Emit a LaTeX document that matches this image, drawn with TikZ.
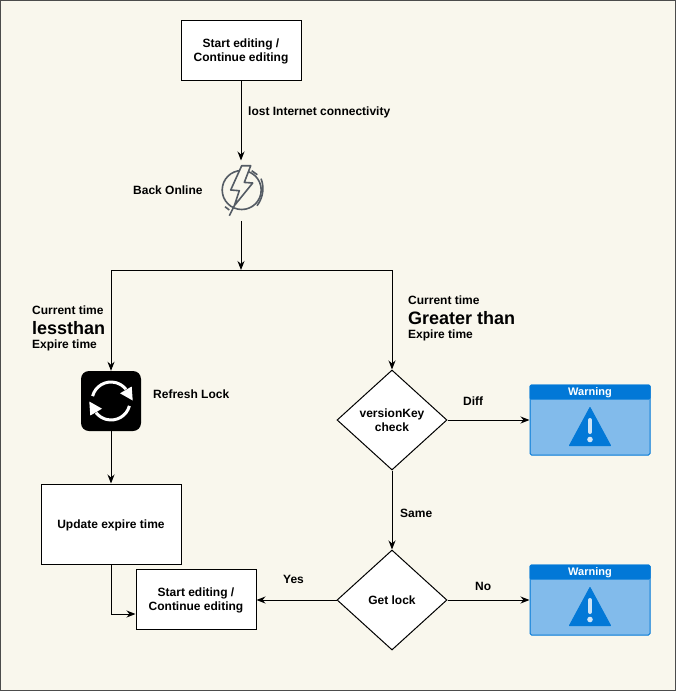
\documentclass[tikz,border=0pt]{standalone}
\usepackage{fontspec}
\setmainfont{Liberation Sans}
\usetikzlibrary{
    arrows.meta,
    positioning,
    calc,
    shapes.geometric
}
\definecolor{paper}{RGB}{249,247,237}
\definecolor{warnfill}{RGB}{130,187,235}
\definecolor{warnblue}{RGB}{2,120,215}
\definecolor{boltgray}{RGB}{84,91,100}
\tikzset{
  box/.style     = {draw, fill=white, line width=1pt, inner sep=0pt, align=center, text depth=0pt,
                    font=\bfseries\fontsize{12}{14}\selectfont},
  choice/.style  = {draw, fill=white, diamond, aspect=1.1, line width=1pt, inner sep=0pt,
                    minimum width=110pt, minimum height=100pt, align=center,
                    font=\bfseries\fontsize{12}{14}\selectfont},
  lbl/.style     = {inner sep=0pt, anchor=west, align=left,
                    font=\bfseries\fontsize{12}{14}\selectfont},
  biglbl/.style  = {inner sep=0pt, anchor=west, font=\bfseries\fontsize{18}{20}\selectfont},
  icon/.style    = {inner sep=0pt, minimum size=60pt},
  warnbox/.style = {draw=warnblue, fill=warnfill, rounded corners=1.5pt, line width=1pt,
                    inner sep=0pt, minimum width=120pt, minimum height=70pt},
  arr/.style     = {-{Stealth[length=9pt,width=7pt]}, line width=1pt}
}
\begin{document}
\begin{tikzpicture}[x=1pt,y=-1pt]
  \useasboundingbox (0,0) rectangle (676,691);
  \draw[fill=paper, draw=black!70, line width=1pt] (0.5,0.5) rectangle (675.5,690.5);

  % left and middle column
  \node[box, minimum width=120pt, minimum height=60pt] (start) at (241,50)
        {Start editing /\\Continue editing};
  \node[icon, below=80pt of start] (bolt) {};
  \coordinate (split) at (241,270);
  \node[icon, fill=black, rounded corners=8pt] (refresh) at (111,401) {};
  \node[box, minimum width=140pt, minimum height=80pt] (update) at (111,524)
        {Update expire time};
  \node[box, minimum width=120pt, minimum height=60pt] (again) at (196,599)
        {Start editing /\\Continue editing};

  % right column
  \node[choice] (version) at (392,420) {versionKey\\check};
  \node[choice] (getlock) at (392,600) {Get lock};
  \node[warnbox] (warnA) at (590,420) {};
  \node[warnbox] (warnB) at (590,600) {};

  % lightning icon
  \begin{scope}[shift={(bolt.center)}, draw=boltgray, line width=1.6pt, line join=round]
    \draw (20.2pt,0.7pt) arc[start angle=0, end angle=360, radius=19.5pt];
    \draw (10.7pt,20pt) -- (16.3pt,16pt);
    \draw (20pt,12pt) .. controls (23pt,5pt) and (23pt,-6pt) .. (16pt,-15pt);
    \draw (-16pt,-16pt) -- (-11.7pt,-19.3pt);
    \draw[fill=paper] (0.7pt,25pt) -- (9.7pt,25pt) -- (3.3pt,8.3pt) -- (11.7pt,7.7pt)
          -- (-6.7pt,-15pt) -- (-1.7pt,0pt) -- (-10.3pt,0.7pt) -- cycle;
    \draw (-6.7pt,-15pt) -- (-11.7pt,-25pt);
  \end{scope}

  % refresh icon
  \begin{scope}[shift={(refresh.center)}]
    \foreach \turn in {0,180} {
      \begin{scope}[rotate=\turn]
        \draw[white, line width=3pt] (-18.4pt,4.9pt) arc[start angle=165, end angle=38, radius=19pt];
        \fill[white] (21.7pt,0.5pt) -- (9pt,7.7pt) -- (20.7pt,14.5pt) -- cycle;
      \end{scope}
    }
  \end{scope}

  % warning cards
  \foreach \warn in {warnA,warnB} {
    \fill[warnblue, rounded corners=1.5pt] (\warn.north west) rectangle ($(\warn.north east)+(0,15)$);
    \node[inner sep=0pt, text=white, font=\bfseries\fontsize{11}{14}\selectfont]
          (\warn title) at ($(\warn.north)+(0,8.5)$) {Warning};
    \fill[warnblue, line join=round, draw=warnblue, line width=1pt]
          ($(\warn.center)+(0,-12.5)$) -- ($(\warn.center)+(20.5,25.5)$) -- ($(\warn.center)+(-20.5,25.5)$) -- cycle;
    \draw[white!60!warnfill, line width=4pt, line cap=round]
          ($(\warn.center)+(0,0)$) -- ($(\warn.center)+(0,12)$);
    \fill[white!60!warnfill] ($(\warn.center)+(0,19.5)$) circle[radius=2.8pt];
  }

  % connectors
  \draw[arr] (start) -- (bolt);
  \draw[arr] (bolt) -- (split);
  \draw[arr] (split) -| (refresh);
  \draw[arr] (split) -| (version);
  \draw[arr] (refresh) -- (update);
  \draw[arr] (update.south) |- ($(again.west)+(0,15)$);
  \draw[arr] (version) -- (warnA);
  \draw[arr] (version) -- (getlock);
  \draw[arr] (getlock.west) -- (getlock.west -| again.east);
  \draw[arr] (getlock) -- (warnB);

  % labels
  \node[lbl] (lost) at (248,112) {lost Internet connectivity};
  \node[lbl] (back) at (133,190) {Back Online};
  \node[lbl] (lessA) at (32,310) {Current time};
  \node[biglbl] (lessB) at (32,328) {lessthan};
  \node[lbl] (lessC) at (32,345) {Expire time};
  \node[lbl] (moreA) at (408,300) {Current time};
  \node[biglbl] (moreB) at (408,318) {Greater than};
  \node[lbl] (moreC) at (408,335) {Expire time};
  \node[lbl] (lock) at (153,394) {Refresh Lock};
  \node[lbl] (diff) at (463,401) {Diff};
  \node[lbl] (same) at (400,513) {Same};
  \node[lbl] (yes) at (283,579) {Yes};
  \node[lbl] (no) at (475,586) {No};
\end{tikzpicture}
\end{document}
